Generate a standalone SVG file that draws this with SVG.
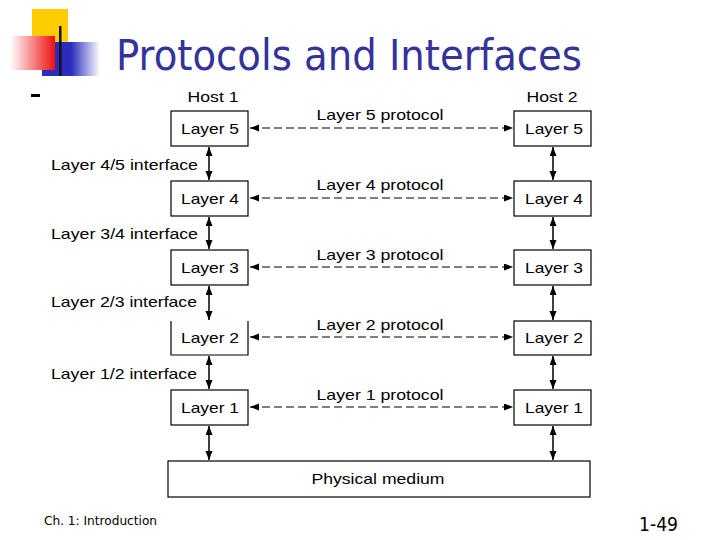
<svg xmlns="http://www.w3.org/2000/svg" width="720" height="540" viewBox="0 0 720 540">
<style>
.box{fill:#fff;stroke:#000;stroke-width:1.2}
.t{font-family:"Liberation Sans",Arial,sans-serif;font-size:15px;fill:#000}
.c{text-anchor:middle}
.v{stroke:#000;stroke-width:1.5;fill:none;marker-start:url(#ah);marker-end:url(#ah)}
.d{stroke:#000;stroke-width:1.1;fill:none;stroke-dasharray:8 4;marker-start:url(#ah);marker-end:url(#ah)}
</style>
<defs>
<marker id="ah" markerUnits="userSpaceOnUse" markerWidth="10" markerHeight="8" refX="9" refY="3.5" orient="auto-start-reverse" viewBox="0 0 10 8">
<path d="M0,0 L9,3.5 L0,7 z" fill="#000"/>
</marker>
<linearGradient id="gr" x1="0" y1="0" x2="1" y2="0">
<stop offset="0" stop-color="#fff"/>
<stop offset="1" stop-color="#ee1111"/>
</linearGradient>
<linearGradient id="gb" x1="0" y1="0" x2="1" y2="0">
<stop offset="0" stop-color="#2b2bbd"/>
<stop offset="0.5" stop-color="#2b2bbd"/>
<stop offset="1" stop-color="#fff"/>
</linearGradient>
</defs>
<rect width="720" height="540" fill="#fff"/>
<g id="logo">
<rect x="32" y="9" width="36" height="36" fill="#ffcc00"/>
<rect x="42" y="42" width="58" height="34" fill="url(#gb)"/>
<rect x="10" y="36" width="45" height="34" fill="url(#gr)"/>
<rect x="59" y="26" width="2.5" height="50" fill="#111"/>
<rect x="31" y="94" width="9" height="3" fill="#000"/>
</g>
<text id="title" x="116" y="70" font-family="Tahoma,'DejaVu Sans',sans-serif" font-size="42" fill="#333399" textLength="466" lengthAdjust="spacingAndGlyphs">Protocols and Interfaces</text>
<text class="t c" x="213" y="102" textLength="51" lengthAdjust="spacingAndGlyphs">Host 1</text>
<text class="t c" x="552" y="102" textLength="51" lengthAdjust="spacingAndGlyphs">Host 2</text>
<g id="connectors">
<line class="v" x1="209" y1="147" x2="209" y2="180"/>
<line class="v" x1="209" y1="217" x2="209" y2="249"/>
<line class="v" x1="209" y1="286" x2="209" y2="320"/>
<line class="v" x1="209" y1="356" x2="209" y2="389"/>
<line class="v" x1="209" y1="426" x2="209" y2="460"/>
<line class="v" x1="553" y1="147" x2="553" y2="180"/>
<line class="v" x1="553" y1="217" x2="553" y2="249"/>
<line class="v" x1="553" y1="286" x2="553" y2="320"/>
<line class="v" x1="553" y1="356" x2="553" y2="389"/>
<line class="v" x1="553" y1="426" x2="553" y2="460"/>
<line class="d" x1="250" y1="128" x2="513" y2="128"/>
<line class="d" x1="250" y1="198" x2="513" y2="198"/>
<line class="d" x1="250" y1="267" x2="513" y2="267"/>
<line class="d" x1="250" y1="337" x2="513" y2="337"/>
<line class="d" x1="250" y1="407" x2="513" y2="407"/>
</g>
<g id="labels">
<text class="t c" x="380" y="120" textLength="127" lengthAdjust="spacingAndGlyphs">Layer 5 protocol</text>
<text class="t c" x="380" y="190" textLength="127" lengthAdjust="spacingAndGlyphs">Layer 4 protocol</text>
<text class="t c" x="380" y="260" textLength="127" lengthAdjust="spacingAndGlyphs">Layer 3 protocol</text>
<text class="t c" x="380" y="330" textLength="127" lengthAdjust="spacingAndGlyphs">Layer 2 protocol</text>
<text class="t c" x="380" y="400" textLength="127" lengthAdjust="spacingAndGlyphs">Layer 1 protocol</text>
<text class="t" x="51" y="170" textLength="147" lengthAdjust="spacingAndGlyphs">Layer 4/5 interface</text>
<text class="t" x="51" y="239" textLength="147" lengthAdjust="spacingAndGlyphs">Layer 3/4 interface</text>
<text class="t" x="51" y="307" textLength="146" lengthAdjust="spacingAndGlyphs">Layer 2/3 interface</text>
<text class="t" x="51" y="379" textLength="146" lengthAdjust="spacingAndGlyphs">Layer 1/2 interface</text>
</g>
<g id="h1-l5"><rect class="box" x="171" y="111" width="77" height="35"/><text class="t c" x="210" y="134" textLength="58" lengthAdjust="spacingAndGlyphs">Layer 5</text></g>
<g id="h1-l4"><rect class="box" x="171" y="181" width="77" height="35"/><text class="t c" x="210" y="204" textLength="58" lengthAdjust="spacingAndGlyphs">Layer 4</text></g>
<g id="h1-l3"><rect class="box" x="171" y="250" width="77" height="35"/><text class="t c" x="210" y="273" textLength="58" lengthAdjust="spacingAndGlyphs">Layer 3</text></g>
<g id="h1-l2"><path class="box" d="M171,321 V355 H248 V321"/><text class="t c" x="210" y="343" textLength="58" lengthAdjust="spacingAndGlyphs">Layer 2</text></g>
<g id="h1-l1"><rect class="box" x="171" y="390" width="77" height="35"/><text class="t c" x="210" y="413" textLength="58" lengthAdjust="spacingAndGlyphs">Layer 1</text></g>
<g id="h2-l5"><rect class="box" x="514" y="111" width="77" height="35"/><text class="t c" x="554" y="134" textLength="58" lengthAdjust="spacingAndGlyphs">Layer 5</text></g>
<g id="h2-l4"><rect class="box" x="514" y="181" width="77" height="35"/><text class="t c" x="554" y="204" textLength="58" lengthAdjust="spacingAndGlyphs">Layer 4</text></g>
<g id="h2-l3"><rect class="box" x="514" y="250" width="77" height="35"/><text class="t c" x="554" y="273" textLength="58" lengthAdjust="spacingAndGlyphs">Layer 3</text></g>
<g id="h2-l2"><rect class="box" x="514" y="321" width="77" height="34"/><text class="t c" x="554" y="343" textLength="58" lengthAdjust="spacingAndGlyphs">Layer 2</text></g>
<g id="h2-l1"><rect class="box" x="514" y="390" width="77" height="35"/><text class="t c" x="554" y="413" textLength="58" lengthAdjust="spacingAndGlyphs">Layer 1</text></g>
<g id="physical"><rect class="box" x="168" y="461" width="422" height="36" stroke-width="1.5"/><text class="t c" x="378" y="484" textLength="133" lengthAdjust="spacingAndGlyphs">Physical medium</text></g>
<text x="44" y="525" font-family="Tahoma,'DejaVu Sans',sans-serif" font-size="13" fill="#000" textLength="113" lengthAdjust="spacingAndGlyphs">Ch. 1: Introduction</text>
<text x="639" y="531" font-family="Tahoma,'DejaVu Sans',sans-serif" font-size="20" fill="#000" textLength="39" lengthAdjust="spacingAndGlyphs">1-49</text>
</svg>
